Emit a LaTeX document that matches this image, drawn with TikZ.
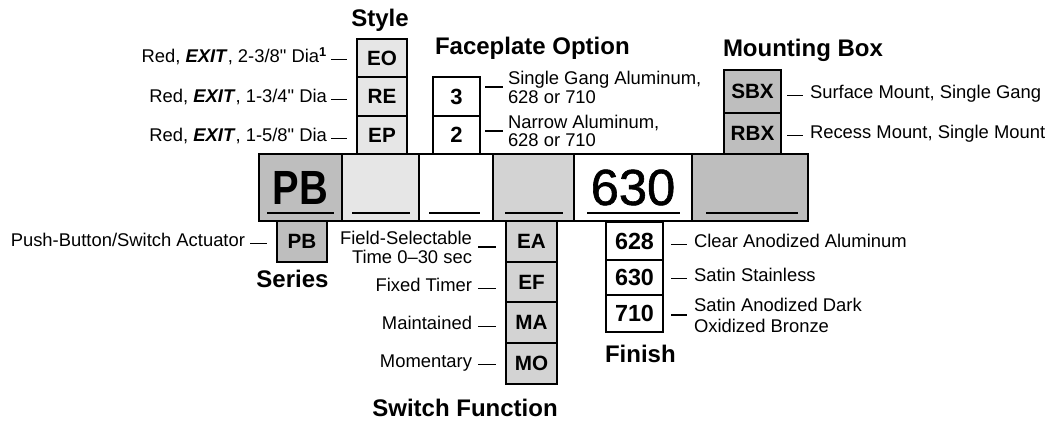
\documentclass[tikz,border=0pt]{standalone}
\usepackage{fontspec}
\setmainfont{Liberation Sans}[Ligatures=TeXOff]
\newfontfamily\bignum{Liberation Sans}[FakeBold=1.2]
\usetikzlibrary{fit}
\definecolor{grayA}{HTML}{BEBEBE}
\definecolor{grayB}{HTML}{E6E6E6}
\definecolor{grayC}{HTML}{D3D3D3}
\tikzset{
  box/.style={draw=black, line width=1.6pt, inner sep=0pt, outer sep=0pt},
  code/.style={inner sep=0pt, font=\fontsize{15.5}{18}\selectfont\bfseries},
  fcode/.style={inner sep=0pt, font=\fontsize{17.5}{20}\selectfont\bfseries},
  pcode/.style={inner sep=0pt, font=\fontsize{16.5}{20}\selectfont\bfseries},
  lab/.style={inner sep=0pt, outer sep=0pt, font=\fontsize{13.8}{16}\selectfont},
  ttl/.style={inner sep=0pt, outer sep=0pt, font=\fontsize{18}{21}\selectfont\bfseries},
  tick/.style={line width=0.8pt},
  uline/.style={line width=1pt},
}
\begin{document}
\begin{tikzpicture}[x=0.75pt,y=-0.75pt]
\useasboundingbox (0,0) rectangle (1047,423);

% main bar
\node[box, fill=grayA, fit={(259,154) (342,221)}, label={[inner sep=0pt, font=\fontsize{36}{40}\selectfont\bfseries]center:\scalebox{0.83}[1]{PB}}] (cPB) {};
\node[box, fill=grayB, fit={(342,154) (419,221)}] (cSty) {};
\node[box, fill=white, fit={(419,154) (493,221)}] (cFace) {};
\node[box, fill=grayC, fit={(493,154) (574,221)}] (cSw) {};
\node[box, fill=white, fit={(574,154) (692,221)}, label={[inner sep=0pt, font=\bignum\fontsize{38}{40}\selectfont]center:630}] (cFin) {};
\node[box, fill=grayA, fit={(692,154) (808,221)}] (cMnt) {};

\draw[uline] (267,213) -- (334,213);
\draw[uline] (352,213) -- (410,213);
\draw[uline] (429,213) -- (480,213);
\draw[uline] (505,213) -- (563,213);
\draw[uline] (587,213) -- (680,213);
\draw[uline] (706,213) -- (798,213);

% Style
\node[box, fill=grayB, fit={(357,39) (407,77)}, label={[code]center:EO}] (EO) {};
\node[box, fill=grayB, fit={(357,77) (407,116)}, label={[code]center:RE}] (RE) {};
\node[box, fill=grayB, fit={(357,116) (407,154)}, label={[code]center:EP}] (EP) {};
\node[ttl, anchor=base] (tStyle) at (380,27) {Style};
\node[lab, anchor=base east] (lEO) at (327,63) {Red, \textbf{\textit{EXIT}}, 2-3/8" Dia\textsuperscript{\textbf{1}}};
\node[lab, anchor=base east] (lRE) at (327,103) {Red, \textbf{\textit{EXIT}}, 1-3/4" Dia};
\node[lab, anchor=base east] (lEP) at (327,142) {Red, \textbf{\textit{EXIT}}, 1-5/8" Dia};
\draw[tick, shorten <=3pt, shorten >=7.5pt] (lEO.mid east) -- (lEO.mid east -| EO.west);
\draw[tick, shorten <=3pt, shorten >=7.5pt] (lRE.mid east) -- (lRE.mid east -| RE.west);
\draw[tick, shorten <=3pt, shorten >=7.5pt] (lEP.mid east) -- (lEP.mid east -| EP.west);

% Faceplate option
\node[box, fill=white, fit={(433,77) (480,116)}, label={[pcode]center:3}] (F3) {};
\node[box, fill=white, fit={(433,116) (480,154)}, label={[pcode]center:2}] (F2) {};
\node[ttl, anchor=base west] (tFace) at (435,55) {Faceplate Option};
\node[lab, anchor=base west] (lF3a) at (508,85) {Single Gang Aluminum,};
\node[lab, anchor=base west] (lF3b) at (508,104) {628 or 710};
\node[lab, anchor=base west] (lF2a) at (508,128.5) {Narrow Aluminum,};
\node[lab, anchor=base west] (lF2b) at (508,147) {628 or 710};
\coordinate (dF3) at ([yshift=-1.5pt]lF3a.base west);
\coordinate (dF2) at ([yshift=-1.9pt]lF2a.base west);
\draw[tick, shorten <=3.75pt, shorten >=3.75pt] (F3.east |- dF3) -- (dF3);
\draw[tick, shorten <=3.75pt, shorten >=3.75pt] (F2.east |- dF2) -- (dF2);

% Mounting box
\node[box, fill=grayA, fit={(724,70) (781,113)}, label={[code]center:SBX}] (SBX) {};
\node[box, fill=grayA, fit={(724,113) (781,154)}, label={[code]center:RBX}] (RBX) {};
\node[ttl, anchor=base west] (tMount) at (723,57) {Mounting Box};
\node[lab, anchor=base west] (lSBX) at (810,99) {Surface Mount, Single Gang};
\node[lab, anchor=base west] (lRBX) at (810,139) {Recess Mount, Single Mount};
\draw[tick, shorten <=4.5pt, shorten >=5.25pt] (SBX.east |- lSBX.mid west) -- (lSBX.mid west);
\draw[tick, shorten <=4.5pt, shorten >=5.25pt] (RBX.east |- lRBX.mid west) -- (lRBX.mid west);

% Series
\node[box, fill=grayA, fit={(277,221) (327,262)}, label={[code]center:PB}] (sPB) {};
\node[ttl, anchor=base] (tSeries) at (292.5,288) {Series};
\node[lab, anchor=base east] (lPB) at (245,247) {Push-Button/Switch Actuator};
\draw[tick, shorten <=3.75pt, shorten >=7.5pt] (lPB.mid east) -- (lPB.mid east -| sPB.west);

% Switch function
\node[box, fill=grayC, fit={(506,221) (557,262)}, label={[code]center:EA}] (EA) {};
\node[box, fill=grayC, fit={(506,262) (557,302)}, label={[code]center:EF}] (EF) {};
\node[box, fill=grayC, fit={(506,302) (557,343)}, label={[code]center:MA}] (MA) {};
\node[box, fill=grayC, fit={(506,343) (557,384)}, label={[code]center:MO}] (MO) {};
\node[ttl, anchor=base] (tSwitch) at (465,417) {Switch Function};
\node[lab, anchor=base east] (lEAa) at (472,245) {Field-Selectable};
\node[lab, anchor=base east] (lEAb) at (472,264) {Time 0–30 sec};
\node[lab, anchor=base east] (lEF) at (472,292) {Fixed Timer};
\node[lab, anchor=base east] (lMA) at (472,330) {Maintained};
\node[lab, anchor=base east] (lMO) at (472,368) {Momentary};
\coordinate (dEA) at ([yshift=-1.5pt]lEAa.base east);
\draw[tick, shorten <=4.5pt, shorten >=7.5pt] (dEA) -- (dEA -| EA.west);
\draw[tick, shorten <=4.5pt, shorten >=7.5pt] (lEF.mid east) -- (lEF.mid east -| EF.west);
\draw[tick, shorten <=4.5pt, shorten >=7.5pt] (lMA.mid east) -- (lMA.mid east -| MA.west);
\draw[tick, shorten <=4.5pt, shorten >=7.5pt] (lMO.mid east) -- (lMO.mid east -| MO.west);

% Finish
\node[box, fill=white, fit={(606,222) (663,260)}, label={[fcode]center:628}] (f628) {};
\node[box, fill=white, fit={(606,260) (663,295)}, label={[fcode]center:630}] (f630) {};
\node[box, fill=white, fit={(606,295) (663,332)}, label={[fcode]center:710}] (f710) {};
\node[ttl, anchor=base west] (tFinish) at (605,363) {Finish};
\node[lab, anchor=base west] (l628) at (694,248) {Clear Anodized Aluminum};
\node[lab, anchor=base west] (l630) at (694,282) {Satin Stainless};
\node[lab, anchor=base west] (l710a) at (694,312) {Satin Anodized Dark};
\node[lab, anchor=base west] (l710b) at (694,333) {Oxidized Bronze};
\coordinate (d710) at ([yshift=-2.25pt]l710a.base west);
\draw[tick, shorten <=6pt, shorten >=5.25pt] (f628.east |- l628.mid west) -- (l628.mid west);
\draw[tick, shorten <=6pt, shorten >=5.25pt] (f630.east |- l630.mid west) -- (l630.mid west);
\draw[tick, shorten <=6pt, shorten >=5.25pt] (f710.east |- d710) -- (d710);
\end{tikzpicture}
\end{document}
